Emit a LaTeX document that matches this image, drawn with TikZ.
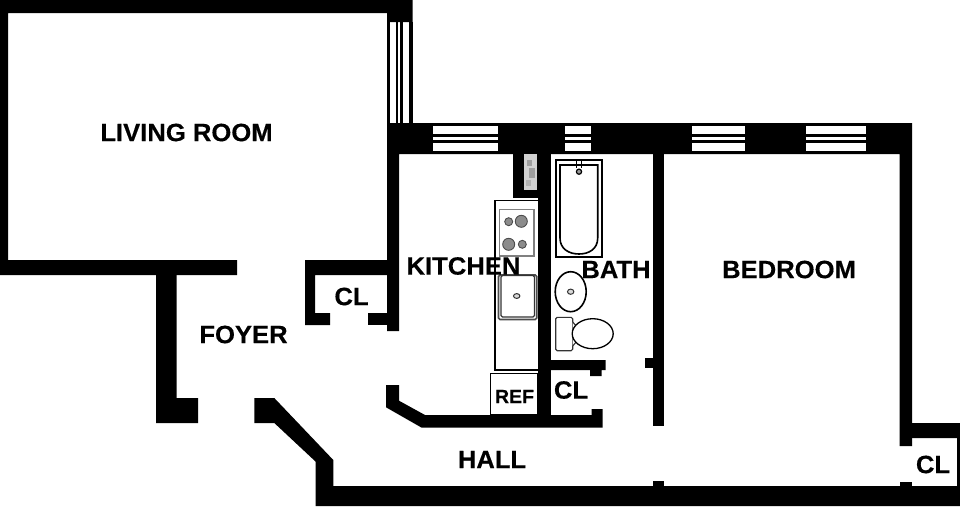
\documentclass[tikz,border=0pt]{standalone}
\usepackage{fontspec}
\setmainfont{Liberation Sans}
\newfontfamily\labelfont[BoldFont={Liberation Sans Bold},BoldFeatures={FakeBold=0.35,FakeStretch=1.025}]{Liberation Sans}
\tikzset{
  wall/.style={fill=black,draw=none},
  pane/.style={fill=white,draw=none},
  fixture/.style={draw=black,line width=1.6pt,fill=white},
  thinfix/.style={draw=black!80,line width=1.1pt,fill=white},
  burner/.style={draw=black!70,line width=.9pt,fill=black!45},
  roomlabel/.style={inner sep=0pt,font=\fontsize{25}{25}\labelfont\bfseries},
  smalllabel/.style={inner sep=0pt,font=\fontsize{19}{19}\labelfont\bfseries}
}
\newcommand{\hwin}[2]{%
  \fill[white] (#1,125.7) rectangle (#2,151.3);
  \fill[black] (#1,134) rectangle (#2,136.7);
  \fill[black] (#1,140) rectangle (#2,142.5);}
\begin{document}
\begin{tikzpicture}[x=1pt,y=-1pt]
\useasboundingbox (0,0) rectangle (960,506);
\fill[white] (0,0) rectangle (960,506);
% living room shell
\fill[wall] (0,0) -- (412.5,0) -- (412.5,22) -- (387,22) -- (387,13) -- (8,13) -- (8,260) -- (237,260) -- (237,275) -- (0,275) -- cycle;
% side window
\fill[wall] (387,22) rectangle (390,123);
\fill[wall] (396,22) rectangle (398,123);
\fill[wall] (400,22) rectangle (402.7,123);
\fill[wall] (409.3,22) rectangle (412.5,123);
% foyer left wall
\fill[wall] (156,275) -- (176.7,275) -- (176.7,398) -- (198,398) -- (198,423) -- (156,423) -- cycle;
% closet at foyer
\fill[wall] (305,260) -- (387,260) -- (387,275) -- (315,275) -- (315,313) -- (330,313) -- (330,325) -- (305,325) -- cycle;
\fill[wall] (367.7,313) rectangle (387.5,325);
% kitchen west wall and top wall
\fill[wall] (387,123) -- (912,123) -- (912,446) -- (899.5,446) -- (899.5,154) -- (399,154) -- (399,331) -- (387,331) -- cycle;
\hwin{432.7}{498}
\hwin{565}{591}
\hwin{692}{745}
\hwin{805.7}{865.7}
% pipe chase
\fill[wall] (512.7,154) rectangle (538.5,198);
\fill[black!18] (524,154) rectangle (537.3,190);
\fill[black!38] (527,160) rectangle (532,166);
\fill[black!38] (529,168) rectangle (535,178);
\fill[black!30] (526,180) rectangle (531,186);
% kitchen/bath wall
\fill[wall] (538,154) rectangle (551,420);
% bedroom wall
\fill[wall] (652.7,154) rectangle (664.3,426);
\fill[wall] (645,358) rectangle (653,368);
% bath lower wall
\fill[wall] (551,360) -- (605.7,360) -- (605.7,370) -- (601.7,370) -- (601.7,376) -- (590,376) -- (590,370) -- (551,370) -- cycle;
% kitchen lower wall
\fill[wall] (386,385) -- (399,385) -- (399,400.7) -- (425,415) -- (591.7,415) -- (591.7,409) -- (602.7,409) -- (602.7,427.7) -- (421.7,427.7) -- (386,407.3) -- cycle;
% foyer diagonal wall and hall south wall
\fill[wall] (254.3,398) -- (274.3,398) -- (333.3,460) -- (333.3,486) -- (960,486) -- (960,506) -- (315.7,506) -- (315.7,461.7) -- (274.3,423) -- (254.3,423) -- cycle;
\fill[wall] (652.7,481) rectangle (664.3,486);
\fill[wall] (900,482) rectangle (912,486);
% east closet
\fill[wall] (900,423) -- (960,423) -- (960,490) -- (957,490) -- (957,438) -- (900,438) -- cycle;
% kitchen counter and stove
\draw[draw=black,line width=1.3pt,fill=white] (495,200.7) rectangle (539,370);
\draw[draw=black!50,line width=1.6pt,fill=white] (499.3,209.3) rectangle (534,256);
\draw[burner] (508.7,221.7) circle[radius=4];
\draw[burner] (521.3,221.3) circle[radius=6];
\draw[burner] (508.7,244.3) circle[radius=6];
\draw[burner] (522.3,244.3) circle[radius=4];
% sink
\draw[draw=black!70,line width=1.6pt,fill=white,rounded corners=1.5pt] (498.5,275) rectangle (536.7,319.5);
\draw[thinfix,rounded corners=1.5pt] (501,275.5) rectangle (534.5,317);
\draw[draw=black!80,line width=1pt,fill=black!15] (516.7,296) ellipse[x radius=3.2,y radius=2.4];
% refrigerator
\draw[draw=black,line width=1.1pt,fill=white] (490.7,373.7) rectangle (537.7,414.3);
% tub
\draw[fixture] (555.7,160) rectangle (601.7,256.7);
\draw[fixture] (560,165) -- (597.7,165) -- (597.7,238) .. controls (597.7,249) and (589,254) .. (579,254) .. controls (569,254) and (560,249) .. (560,238) -- cycle;
\draw[draw=black,line width=.9pt] (576.5,160) -- (576.5,168) (581.5,160) -- (581.5,168);
\draw[draw=black,line width=1.2pt,fill=black!40] (579,171.7) circle[radius=2.6];
% basin
\draw[fixture] (570.7,291.7) ellipse[x radius=15.5,y radius=20];
\draw[draw=black!80,line width=1pt,fill=black!15] (570.7,291.7) ellipse[x radius=3.2,y radius=2.6];
% toilet
\draw[thinfix,rounded corners=1.5pt] (555.7,317.3) rectangle (572.7,350.7);
\draw[thinfix] (572.7,322) -- (577,327) -- (577,341) -- (572.7,346);
\draw[draw=black,line width=1.3pt,fill=white] (592.7,333.7) ellipse[x radius=20.5,y radius=15];
% labels
\node[roomlabel] (living) at (186.5,132.5) {LIVING ROOM};
\node[roomlabel] (kitchen) at (463.5,266) {KITCHEN};
\node[roomlabel] (bath) at (616,269.5) {BATH};
\node[roomlabel] (bedroom) at (789,269.5) {BEDROOM};
\node[roomlabel] (foyer) at (243.5,334.5) {FOYER};
\node[roomlabel] (hall) at (492,459.5) {HALL};
\node[roomlabel] (cla) at (351.5,296.5) {CL};
\node[roomlabel] (clb) at (571,390) {CL};
\node[roomlabel] (clc) at (933,464.5) {CL};
\node[smalllabel] (ref) at (514.5,396.5) {REF};
\end{tikzpicture}
\end{document}
